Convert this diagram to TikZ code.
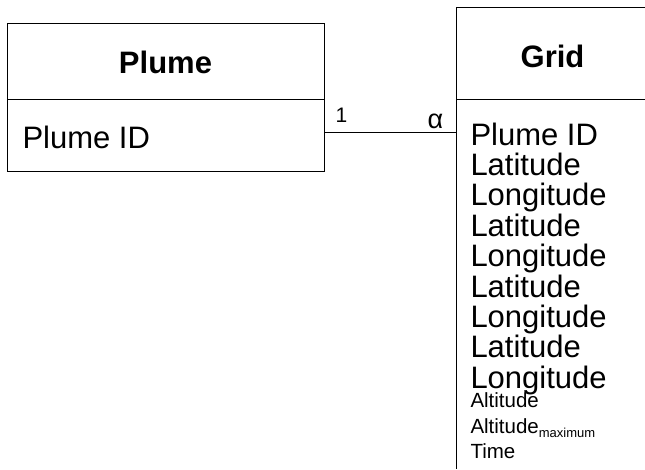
\documentclass[tikz,border=0pt]{standalone}
\usepackage{fontspec}
\setmainfont{Liberation Sans}
\begin{document}
\begin{tikzpicture}[x=1pt,y=-1pt,line width=1pt,
    titel/.style={font=\fontsize{31}{36}\selectfont\bfseries,inner sep=0pt,anchor=base},
    feld/.style={font=\fontsize{31}{36}\selectfont,inner sep=0pt,anchor=base west},
    kleinfeld/.style={font=\fontsize{20.5}{24}\selectfont,inner sep=0pt,anchor=base west}]
    \useasboundingbox (0,0) rectangle (645,469);
    % Kasten Plume
    \node[draw,minimum width=317pt,minimum height=148pt,inner sep=0pt,anchor=north west] (plume) at (7,23) {};
    \draw (7,99) -- (324,99);
    \node[titel] (plumetitel) at (165.5,73) {Plume};
    \node[feld] (plumeid) at (22,148) {Plume ID};
    % Kasten Grid, rechts offen
    \coordinate (G) at (456,7);
    \draw (645,7) -- (G) -- (456,469);
    \draw (456,99) -- (645,99);
    \node[titel] (gridtitel) at (552.5,67) {Grid};
    % Felder
    \foreach \name [count=\i from 0] in {Plume ID,Latitude,Longitude,Latitude,Longitude,Latitude,Longitude,Latitude,Longitude}{
      \node[feld] (feld\i) at (470,145+30.4*\i) {\name};
    }
    \node[kleinfeld] (alt) at (470,407) {Altitude};
    \node[kleinfeld] (altmax) at (470,433) {Altitude\raisebox{-4.5pt}{\fontsize{13}{15}\selectfont maximum}};
    \node[kleinfeld] (zeit) at (470,458) {Time};
    % Beziehung
    \coordinate (P) at (324,132);
    \coordinate (Q) at (456,132);
    \draw (P) -- (Q);
    \node[font=\fontsize{21}{24}\selectfont,inner sep=0pt,anchor=base] (eins) at (341.5,122) {1};
    \node[font=\fontsize{27}{30}\selectfont,inner sep=0pt,anchor=base] (alpha) at (435.5,128) {α};
\end{tikzpicture}
\end{document}
